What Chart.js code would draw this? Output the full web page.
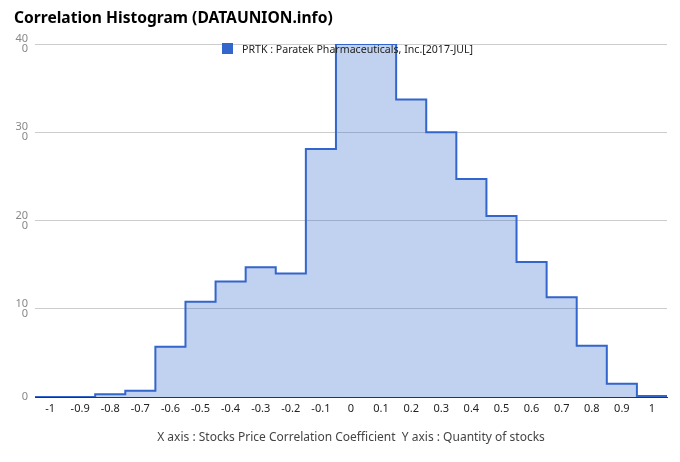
<!DOCTYPE html>
<html>
<head>
<meta charset="utf-8">
<script src="https://cdn.jsdelivr.net/npm/chart.js@4.4.1/dist/chart.umd.min.js"></script>
<style>
  html, body { margin: 0; padding: 0; background: #fff; }
  #wrap { position: relative; width: 680px; height: 462px; font-family: "Noto Sans", sans-serif; }
  #title { position: absolute; left: 14px; top: 6px; font-size: 15.6px; font-weight: bold; color: #000; }
  #legend { position: absolute; left: 222px; top: 42px; font-size: 10.6px; color: #222; white-space: nowrap; }
  #legend span.box { display: inline-block; width: 11px; height: 11px; background: #3366cc; vertical-align: -1px; margin-right: 9px; }
</style>
</head>
<body>
<div id="wrap">
  <canvas id="chart" width="680" height="462"></canvas>
  <div id="title">Correlation Histogram (DATAUNION.info)</div>
  <div id="legend"><span class="box"></span>PRTK : Paratek Pharmaceuticals, Inc.[2017-JUL]</div>
</div>
<script>
// bin centres (correlation coefficient) and stock counts
var bins = [-1, -0.9, -0.8, -0.7, -0.6, -0.5, -0.4, -0.3, -0.2, -0.1, 0, 0.1, 0.2, 0.3, 0.4, 0.5, 0.6, 0.7, 0.8, 0.9, 1];
var counts = [0, 0, 3, 7, 57, 108, 131, 147, 140, 281, 400, 400, 337, 300, 247, 205, 153, 113, 58, 15, 1];
var xTicks = [-1, -0.9, -0.8, -0.7, -0.6, -0.5, -0.4, -0.3, -0.2, -0.1, 0, 0.1, 0.2, 0.3, 0.4, 0.5, 0.6, 0.7, 0.8, 0.9, 1];
var yTicks = [0, 100, 200, 300, 400];

var half = 0.05;
var points = bins.map(function(b, i) { return {x: b, y: counts[i]}; });
// stretch the first and last step to the bin edges
points.unshift({x: bins[0] - half, y: counts[0]});
points.push({x: bins[bins.length - 1] + half, y: counts[counts.length - 1]});

new Chart(document.getElementById("chart"), {
  type: "line",
  data: {
    datasets: [{
      label: "PRTK : Paratek Pharmaceuticals, Inc.[2017-JUL]",
      data: points,
      stepped: "middle",
      borderColor: "#3366cc",
      borderWidth: 2,
      backgroundColor: "rgba(51,102,204,0.3)",
      fill: "origin",
      pointRadius: 0
    }]
  },
  options: {
    responsive: false,
    animation: false,
    layout: { padding: { top: 44, right: 13, left: 0, bottom: 0 } },
    plugins: { legend: { display: false }, title: { display: false }, tooltip: { enabled: false } },
    scales: {
      x: {
        type: "linear",
        min: bins[0] - half,
        max: bins[bins.length - 1] + half,
        afterBuildTicks: function(axis) { axis.ticks = xTicks.map(function(v) { return {value: v}; }); },
        afterFit: function(axis) { axis.height = 65; },
        grid: { display: false, drawTicks: false },
        border: { color: "#333", width: 1 },
        ticks: {
          padding: 5,
          autoSkip: false,
          maxRotation: 0,
          color: "#222",
          font: { family: "Noto Sans", size: 11 },
          callback: function(v) { return String(Number(v.toFixed(1))); }
        },
        title: {
          display: true,
          text: "X axis : Stocks Price Correlation Coefficient  Y axis : Quantity of stocks",
          color: "#444",
          font: { family: "Noto Sans", size: 12 },
          padding: { top: 4, bottom: 17 }
        }
      },
      y: {
        min: 0,
        max: 400,
        afterBuildTicks: function(axis) { axis.ticks = yTicks.map(function(v) { return {value: v}; }); },
        afterFit: function(axis) { axis.width = 35; },
        grid: {
          drawTicks: false,
          color: function(ctx) { return ctx.tick && ctx.tick.value === 0 ? "#333" : "#ccc"; }
        },
        border: { display: false },
        ticks: {
          padding: 7,
          color: "#888",
          font: { family: "Noto Sans", size: 11, lineHeight: 0.9 },
          callback: function(v) {
            var s = String(v);
            return s.length > 2 ? [s.slice(0, 2), s.slice(2)] : s;
          }
        }
      }
    }
  }
});
</script>
</body>
</html>
